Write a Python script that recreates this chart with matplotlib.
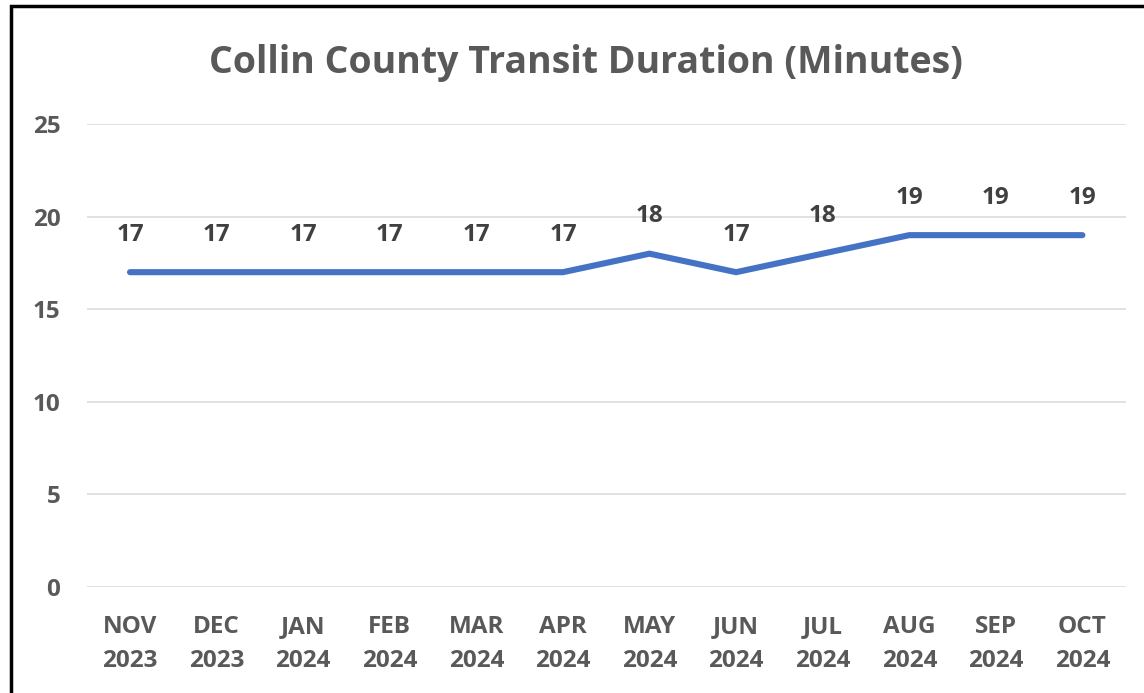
import matplotlib
matplotlib.use('Agg')
import matplotlib.pyplot as plt
from matplotlib.patches import Rectangle

months = ["NOV\n2023", "DEC\n2023", "JAN\n2024", "FEB\n2024", "MAR\n2024", "APR\n2024",
          "MAY\n2024", "JUN\n2024", "JUL\n2024", "AUG\n2024", "SEP\n2024", "OCT\n2024"]
duration = [17, 17, 17, 17, 17, 17, 18, 17, 18, 19, 19, 19]
yticks = [0, 5, 10, 15, 20, 25]

plt.rcParams['font.family'] = ['Open Sans', 'DejaVu Sans']

fig = plt.figure(figsize=(11.44, 6.93), dpi=100)
ax = fig.add_axes([0.0758, 0.153, 0.9082, 0.668])

x = list(range(len(months)))
ax.plot(x, duration, color="#4472C4", linewidth=4.4, solid_capstyle="round",
        solid_joinstyle="miter", zorder=3)
for xi, v in zip(x, duration):
    ax.annotate(str(v), (xi, v), xytext=(0, 27), textcoords="offset points",
                ha="center", va="center", fontsize=17.5, fontweight="bold",
                color="#404040")

ax.set_xlim(-0.5, len(months) - 0.5)
ax.set_ylim(0, 25)
ax.set_yticks(yticks)
ax.set_xticks(x)
ax.set_xticklabels(months, fontsize=17.5, fontweight="bold", color="#595959",
                   linespacing=1.55)
ax.set_yticklabels([str(t) for t in yticks], fontsize=17.5, fontweight="bold",
                   color="#595959")
ax.tick_params(axis="both", length=0)
ax.tick_params(axis="y", pad=19)
ax.tick_params(axis="x", pad=20)
ax.grid(axis="y", color="#D9D9D9", linewidth=1.1)
ax.set_axisbelow(True)
for s in ax.spines.values():
    s.set_visible(False)

fig.text(0.512, 0.909, "Collin County Transit Duration (Minutes)", ha="center",
         va="center", fontsize=27, fontweight="bold", color="#595959")

# frame around the chart (left and top edges visible in the reference)
fig.patches.append(Rectangle((0.0096, -0.1), 1.2, 1.0915, transform=fig.transFigure,
                             fill=False, edgecolor="black", linewidth=2.5))

fig.savefig("out.png", dpi=100)
